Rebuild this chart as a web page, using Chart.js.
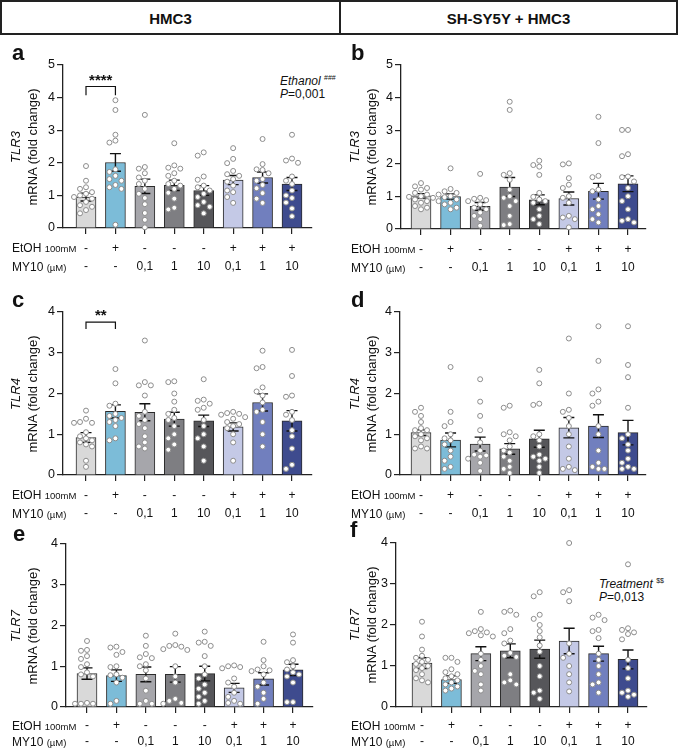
<!DOCTYPE html>
<html lang="en">
<head>
<meta charset="UTF-8">
<title>TLR3 / TLR4 / TLR7 mRNA</title>
<script src="https://cdn.jsdelivr.net/npm/chart.js"></script>
<style>
    body {
        margin: 0;
        background: #fff;
        font-family: "Liberation Sans", Arial, sans-serif;
        color: #111;
    }

    #fig {
        position: relative;
        width: 678px;
        height: 752px;
        overflow: hidden;
    }

    .hdr {
        position: absolute;
        top: 0;
        height: 35px;
        box-sizing: border-box;
        border: 2px solid #222;
        font-weight: bold;
        font-size: 15px;
        text-align: center;
        line-height: 33px;
    }

    canvas {
        position: absolute;
    }

    .letter {
        position: absolute;
        font-weight: bold;
        font-size: 22px;
        line-height: 26px;
    }

    .ytitle {
        position: absolute;
        width: 140px;
        height: 34px;
        text-align: center;
        transform: rotate(-90deg);
        font-size: 13px;
        line-height: 17px;
        white-space: nowrap;
    }

    .row {
        position: absolute;
        font-size: 12px;
        line-height: 14px;
        white-space: nowrap;
    }

    .row small {
        font-size: 9.5px;
    }

    .note {
        position: absolute;
        font-size: 12px;
        line-height: 13px;
        white-space: nowrap;
    }

    .note sup {
        font-size: 7px;
        vertical-align: 5px;
    }
</style>
</head>
<body>
<div id="fig">
    <div class="hdr" style="left:0;width:341px;">HMC3</div>
    <div class="hdr" style="left:339px;width:339px;">SH-SY5Y + HMC3</div>
    <div class="note" style="left:280px;top:71px;"><i>Ethanol</i> <sup>###</sup><br><i>P</i>=0,001</div>
    <div class="note" style="left:599px;top:574px;"><i>Treatment</i> <sup>$$</sup><br><i>P</i>=0,013</div>
</div>

<script>
    // x-axis rows
    const etohRow = ['-', '+', '-', '-', '-', '+', '+', '+'];
    const my10Row = ['-', '-', '0,1', '1', '10', '0,1', '1', '10'];

    // a: TLR3, HMC3
    const tlr3HmcMean = [0.95, 2.01, 1.28, 1.31, 1.15, 1.47, 1.55, 1.35];
    const tlr3HmcSem = [0.12, 0.27, 0.22, 0.16, 0.15, 0.14, 0.17, 0.20];
    const tlr3HmcPts = [
        [1.9, 1.45, 1.25, 1.2, 1.1, 1.05, 1.0, 0.95, 0.9, 0.8, 0.7, 0.65, 0.55, 0.45],
        [3.92, 3.62, 2.86, 2.68, 2.62, 1.8, 1.72, 1.6, 1.5, 1.45, 1.32, 1.25, 1.2, 0.1],
        [3.47, 1.87, 1.82, 1.68, 1.55, 1.45, 1.35, 1.2, 1.05, 0.92, 0.73, 0.46, 0.25, 0.02],
        [2.6, 1.92, 1.85, 1.82, 1.68, 1.6, 1.45, 1.35, 1.3, 1.2, 1.08, 0.9, 0.62, 0.57],
        [2.32, 2.22, 1.58, 1.48, 1.3, 1.25, 1.15, 1.05, 0.95, 0.8, 0.7, 0.65, 0.45],
        [2.45, 2.12, 1.99, 1.75, 1.65, 1.6, 1.5, 1.42, 1.3, 1.15, 1.1, 0.95, 0.77],
        [2.73, 1.96, 1.8, 1.78, 1.68, 1.5, 1.45, 1.32, 1.22, 1.07, 0.9, 0.77],
        [2.86, 2.13, 2.07, 2.0, 1.58, 1.45, 1.35, 1.15, 1.0, 0.92, 0.78, 0.6, 0.36]
    ];

    // b: TLR3, SH-SY5Y + HMC3
    const tlr3CoMean = [1.01, 0.99, 0.69, 1.28, 0.89, 0.93, 1.15, 1.38];
    const tlr3CoSem = [0.07, 0.08, 0.12, 0.29, 0.15, 0.20, 0.24, 0.24];
    const tlr3CoPts = [
        [1.4, 1.3, 1.25, 1.2, 1.1, 1.05, 1.0, 0.98, 0.95, 0.9, 0.85, 0.8, 0.7, 0.65, 0.6],
        [1.85, 1.22, 1.15, 1.1, 1.05, 1.0, 0.97, 0.9, 0.85, 0.8, 0.75, 0.65, 0.6],
        [1.68, 0.95, 0.92, 0.88, 0.85, 0.75, 0.65, 0.6, 0.5, 0.4, 0.3, 0.1],
        [3.88, 3.63, 1.7, 1.65, 1.5, 1.2, 1.0, 0.95, 0.85, 0.7, 0.4, 0.15, 0.12],
        [2.08, 1.95, 1.9, 1.65, 1.1, 0.98, 0.9, 0.85, 0.8, 0.6, 0.4, 0.3, 0.15],
        [2.0, 1.97, 1.55, 1.35, 1.25, 1.0, 0.95, 0.8, 0.4, 0.35, 0.3, 0.05],
        [3.42, 2.62, 1.62, 1.58, 1.2, 1.15, 0.9, 0.7, 0.6, 0.45, 0.3, 0.2],
        [3.02, 3.02, 2.28, 2.22, 1.6, 1.58, 1.45, 1.25, 1.0, 0.85, 0.6, 0.3, 0.25, 0.2]
    ];

    // c: TLR4, HMC3
    const tlr4HmcMean = [0.92, 1.56, 1.54, 1.37, 1.33, 1.18, 1.78, 1.33];
    const tlr4HmcSem = [0.12, 0.16, 0.21, 0.17, 0.14, 0.10, 0.21, 0.25];
    const tlr4HmcPts = [
        [1.58, 1.38, 1.3, 1.28, 1.28, 1.05, 0.95, 0.9, 0.85, 0.8, 0.75, 0.7, 0.35, 0.2],
        [2.6, 2.25, 1.75, 1.7, 1.5, 1.45, 1.4, 1.35, 1.3, 1.2, 0.9, 0.85],
        [3.3, 2.28, 2.2, 2.2, 1.95, 1.55, 1.45, 1.35, 1.25, 1.15, 0.95, 0.8, 0.7, 0.65],
        [2.3, 2.28, 2.0, 1.8, 1.6, 1.5, 1.4, 1.35, 1.2, 1.0, 0.9, 0.75, 0.62],
        [2.35, 1.85, 1.82, 1.75, 1.65, 1.6, 1.35, 1.2, 1.0, 0.9, 0.7, 0.35],
        [1.55, 1.52, 1.5, 1.48, 1.42, 1.38, 1.3, 1.25, 1.2, 1.15, 1.0, 0.8, 0.35],
        [3.05, 2.65, 2.62, 2.15, 2.05, 1.95, 1.78, 1.6, 1.55, 1.3, 1.0, 0.7],
        [3.07, 2.43, 1.95, 1.92, 1.55, 1.48, 1.35, 1.1, 0.95, 0.65, 0.25, 0.15]
    ];

    // d: TLR4, SH-SY5Y + HMC3
    const tlr4CoMean = [1.04, 0.86, 0.76, 0.64, 0.89, 1.16, 1.20, 1.04];
    const tlr4CoSem = [0.07, 0.17, 0.17, 0.13, 0.21, 0.25, 0.28, 0.30];
    const tlr4CoPts = [
        [1.65, 1.55, 1.45, 1.3, 1.15, 1.1, 1.1, 1.0, 0.95, 0.9, 0.85, 0.7, 0.65, 0.65],
        [2.65, 1.55, 1.3, 1.2, 1.0, 0.9, 0.85, 0.75, 0.6, 0.45, 0.35, 0.2, 0.15],
        [2.35, 1.8, 1.45, 1.1, 0.8, 0.6, 0.5, 0.48, 0.45, 0.4, 0.3, 0.1],
        [1.7, 1.65, 1.05, 1.0, 0.95, 0.85, 0.7, 0.6, 0.55, 0.45, 0.35, 0.2, 0.15, 0.05],
        [2.58, 2.25, 1.75, 1.72, 1.0, 0.95, 0.85, 0.7, 0.5, 0.45, 0.4, 0.35, 0.2, 0.05],
        [3.35, 2.0, 1.6, 1.55, 1.4, 1.2, 1.0, 0.7, 0.4, 0.2, 0.15, 0.12],
        [3.65, 2.8, 2.1, 2.0, 1.8, 1.7, 1.2, 1.0, 0.6, 0.3, 0.2, 0.15, 0.15],
        [3.65, 2.7, 2.4, 1.65, 1.0, 0.9, 0.75, 0.6, 0.4, 0.3, 0.2, 0.15, 0.15]
    ];

    // e: TLR7, HMC3
    const tlr7HmcMean = [0.82, 0.77, 0.80, 0.80, 0.82, 0.47, 0.69, 0.91];
    const tlr7HmcSem = [0.14, 0.14, 0.18, 0.19, 0.18, 0.11, 0.15, 0.14];
    const tlr7HmcPts = [
        [1.62, 1.4, 1.38, 1.25, 1.18, 1.05, 0.98, 0.85, 0.8, 0.75, 0.1, 0.08, 0.08, 0.08],
        [1.48, 1.46, 1.35, 1.28, 1.0, 0.98, 0.8, 0.78, 0.72, 0.6, 0.15, 0.08],
        [1.75, 1.5, 1.3, 1.22, 1.2, 1.05, 1.0, 0.9, 0.7, 0.4, 0.15, 0.08, 0.08],
        [1.8, 1.52, 1.5, 1.48, 1.42, 1.4, 1.0, 0.75, 0.6, 0.2, 0.15, 0.1, 0.08],
        [1.85, 1.6, 1.58, 1.5, 1.25, 1.0, 0.8, 0.7, 0.55, 0.45, 0.35, 0.25, 0.15, 0.08],
        [1.02, 1.0, 0.98, 0.95, 0.7, 0.6, 0.5, 0.35, 0.25, 0.15, 0.1, 0.08],
        [1.6, 1.15, 1.0, 0.92, 0.9, 0.88, 0.8, 0.6, 0.5, 0.35, 0.2, 0.08],
        [1.78, 1.58, 1.15, 1.1, 1.0, 0.92, 0.85, 0.8, 0.75, 0.6, 0.12, 0.12]
    ];

    // f: TLR7, SH-SY5Y + HMC3
    const tlr7CoMean = [1.07, 0.67, 1.30, 1.37, 1.41, 1.61, 1.30, 1.16];
    const tlr7CoSem = [0.13, 0.09, 0.17, 0.17, 0.22, 0.31, 0.18, 0.23];
    const tlr7CoPts = [
        [2.08, 1.72, 1.4, 1.25, 1.2, 1.15, 1.1, 1.05, 1.0, 0.95, 0.9, 0.8, 0.7, 0.65, 0.6],
        [1.2, 1.2, 1.1, 0.92, 0.85, 0.8, 0.75, 0.7, 0.65, 0.6, 0.55, 0.5, 0.45, 0.4],
        [2.32, 1.9, 1.85, 1.82, 1.8, 1.75, 1.72, 1.3, 1.15, 1.0, 0.88, 0.8, 0.55, 0.4],
        [2.35, 2.32, 2.25, 1.9, 1.8, 1.62, 1.55, 1.32, 1.25, 1.22, 0.8, 0.65, 0.6, 0.55],
        [2.8, 2.7, 2.25, 2.15, 2.0, 1.85, 1.7, 1.5, 1.35, 1.0, 0.75, 0.4, 0.35, 0.2],
        [4.0, 2.85, 2.8, 2.58, 1.55, 1.3, 1.2, 1.0, 0.8, 0.6, 0.38],
        [2.25, 2.18, 2.12, 1.88, 1.85, 1.68, 1.3, 1.15, 1.0, 0.8, 0.6, 0.55, 0.35],
        [3.48, 1.92, 1.88, 1.82, 1.78, 1.65, 1.15, 0.95, 0.7, 0.4, 0.35, 0.3, 0.25]
    ];

    // significance brackets: [from, to, bracket top, leg end, label y]
    const sigA = [0, 1, 4.34, 4.07, 4.62];
    const sigC = [0, 1, 3.75, 3.58, 3.98];

    const barColors = ['#d9d9d9', '#7cbcd8', '#a6a6ab', '#7e7e82', '#56565a', '#c4c9e6', '#717fbe', '#3e4b8e'];

    // area = [left, top, right, bottom] of the plot in page pixels, c0/c7 = first/last bar centre
    const panels = [
        {letter: 'a', lx: 12, ly: 40, col: 0, gene: 'TLR3', area: [63, 65, 312, 228], c0: 86, c7: 292, ymax: 5,
            mean: tlr3HmcMean, sem: tlr3HmcSem, pts: tlr3HmcPts, sig: sigA, sigText: '****', lh: 18.5},
        {letter: 'b', lx: 351, ly: 40, col: 1, gene: 'TLR3', area: [401, 65, 646, 229], c0: 421, c7: 628, ymax: 5,
            mean: tlr3CoMean, sem: tlr3CoSem, pts: tlr3CoPts, sig: null, lh: 18.5},
        {letter: 'c', lx: 12, ly: 287, col: 0, gene: 'TLR4', area: [63, 312, 312, 475], c0: 86, c7: 292, ymax: 4,
            mean: tlr4HmcMean, sem: tlr4HmcSem, pts: tlr4HmcPts, sig: sigC, sigText: '**', lh: 18.5},
        {letter: 'd', lx: 351, ly: 287, col: 1, gene: 'TLR4', area: [400, 312, 646, 475], c0: 421, c7: 628, ymax: 4,
            mean: tlr4CoMean, sem: tlr4CoSem, pts: tlr4CoPts, sig: null, lh: 18.5},
        {letter: 'e', lx: 13, ly: 521, col: 0, gene: 'TLR7', area: [66, 544, 313, 707], c0: 87, c7: 293, ymax: 4,
            mean: tlr7HmcMean, sem: tlr7HmcSem, pts: tlr7HmcPts, sig: null, lh: 16},
        {letter: 'f', lx: 350, ly: 517, col: 1, gene: 'TLR7', area: [396, 543, 647, 707], c0: 422, c7: 628, ymax: 4,
            mean: tlr7CoMean, sem: tlr7CoSem, pts: tlr7CoPts, sig: null, lh: 16}
    ];

    const fig = document.getElementById('fig');

    // spread the dots of one group sideways so they don't sit on top of each other
    function swarm(vals, gi, py, px) {
        const placed = [];
        const offs = [0, -6, 6, -12, 12, -3, 3, -9, 9];
        return vals.slice().sort((a, b) => b - a).map(v => {
            const yy = v * py;
            let pick = 0, bestD = -1;
            for (const o of offs) {
                let d = Infinity;
                placed.forEach(q => { d = Math.min(d, Math.hypot(q[0] - o, q[1] - yy)); });
                if (d >= 5.6) { pick = o; break; }
                if (d > bestD) { bestD = d; pick = o; }
            }
            placed.push([pick, yy]);
            return {x: gi + pick / px, y: v};
        });
    }

    const errPlugin = {
        id: 'err',
        afterDatasetDraw(chart, args, opts) {
            if (args.index !== 0) return;
            const xs = chart.scales.x, ys = chart.scales.y, ctx = chart.ctx;
            ctx.save();
            ctx.strokeStyle = '#111';
            ctx.lineWidth = 1.4;
            opts.mean.forEach((m, i) => {
                const x = xs.getPixelForValue(i);
                const yt = ys.getPixelForValue(m + opts.sem[i]);
                const yb = ys.getPixelForValue(m - opts.sem[i]);
                ctx.beginPath();
                ctx.moveTo(x, yb); ctx.lineTo(x, yt);
                ctx.moveTo(x - 5.5, yt); ctx.lineTo(x + 5.5, yt);
                ctx.moveTo(x - 5.5, yb); ctx.lineTo(x + 5.5, yb);
                ctx.stroke();
            });
            ctx.restore();
        },
        afterDraw(chart, args, opts) {
            const s = opts.sig;
            if (!s) return;
            const xs = chart.scales.x, ys = chart.scales.y, ctx = chart.ctx;
            const x0 = xs.getPixelForValue(s[0]), x1 = xs.getPixelForValue(s[1]);
            const yt = ys.getPixelForValue(s[2]), yl = ys.getPixelForValue(s[3]);
            ctx.save();
            ctx.strokeStyle = '#111';
            ctx.lineWidth = 1.2;
            ctx.beginPath();
            ctx.moveTo(x0, yl); ctx.lineTo(x0, yt); ctx.lineTo(x1, yt); ctx.lineTo(x1, yl);
            ctx.stroke();
            ctx.fillStyle = '#111';
            ctx.font = 'bold 15px "Liberation Sans", Arial, sans-serif';
            ctx.textAlign = 'center';
            ctx.textBaseline = 'middle';
            ctx.fillText(opts.sigText, (x0 + x1) / 2, ys.getPixelForValue(s[4]) + 3);
            ctx.restore();
        }
    };

    panels.forEach(p => {
        const [L, T, R, B] = p.area;
        const YW = 40, PT = 12, PR = 12, XH = 50;
        const cv = document.createElement('canvas');
        const w = R - L + YW + PR, h = B - T + PT + XH;
        cv.width = w; cv.height = h;
        cv.style.left = (L - YW) + 'px';
        cv.style.top = (T - PT) + 'px';
        cv.style.width = w + 'px';
        cv.style.height = h + 'px';
        fig.appendChild(cv);

        const kx = (p.c7 - p.c0) / 7;
        const xmin = -(p.c0 - L) / kx;
        const xmax = xmin + (R - L) / kx;
        const py = (B - T) / p.ymax;

        let dots = [];
        p.pts.forEach((g, i) => { dots = dots.concat(swarm(g, i, py, kx)); });

        new Chart(cv, {
            type: 'bar',
            data: {
                datasets: [
                    {
                        type: 'bar',
                        data: p.mean.map((m, i) => ({x: i, y: m})),
                        backgroundColor: barColors,
                        borderColor: '#2a2a2a',
                        borderWidth: 1,
                        barThickness: 20,
                        order: 2
                    },
                    {
                        type: 'scatter',
                        data: dots,
                        pointRadius: 2.5,
                        pointBackgroundColor: '#fff',
                        pointBorderColor: '#8c8c8c',
                        pointBorderWidth: 1,
                        clip: false,
                        order: 1
                    }
                ]
            },
            options: {
                responsive: false,
                animation: false,
                events: [],
                layout: {padding: {top: PT, right: PR, left: 0, bottom: 0}},
                plugins: {
                    legend: {display: false},
                    tooltip: {enabled: false},
                    err: {mean: p.mean, sem: p.sem, sig: p.sig, sigText: p.sigText}
                },
                scales: {
                    x: {
                        type: 'linear',
                        min: xmin,
                        max: xmax,
                        offset: false,
                        afterBuildTicks: s => { s.ticks = etohRow.map((_, i) => ({value: i})); },
                        afterFit: s => { s.height = XH; },
                        grid: {display: true, offset: false, drawOnChartArea: false, drawTicks: true, tickLength: 6, color: '#222', lineWidth: 1.2},
                        border: {display: true, color: '#222', width: 1.3},
                        ticks: {
                            autoSkip: false,
                            maxRotation: 0,
                            padding: 5,
                            color: '#111',
                            font: {family: '"Liberation Sans", Arial, sans-serif', size: 12, lineHeight: p.lh / 12},
                            callback: v => [etohRow[v], my10Row[v]]
                        }
                    },
                    y: {
                        type: 'linear',
                        min: 0,
                        max: p.ymax,
                        afterFit: s => { s.width = YW; },
                        grid: {display: true, drawOnChartArea: false, drawTicks: true, tickLength: 6, color: '#222', lineWidth: 1.2},
                        border: {display: true, color: '#222', width: 1.3},
                        ticks: {
                            stepSize: 1,
                            padding: 2,
                            color: '#111',
                            font: {family: '"Liberation Sans", Arial, sans-serif', size: 12.5}
                        }
                    }
                }
            },
            plugins: [errPlugin]
        });

        // panel letter, axis title and row captions
        const ox = p.col ? 339 : 0;
        const letter = document.createElement('div');
        letter.className = 'letter';
        letter.style.left = p.lx + 'px';
        letter.style.top = p.ly + 'px';
        letter.textContent = p.letter;
        fig.appendChild(letter);

        const yt = document.createElement('div');
        yt.className = 'ytitle';
        yt.style.left = (ox + 24 - 70) + 'px';
        yt.style.top = ((T + B) / 2 - 17) + 'px';
        yt.innerHTML = '<i>' + p.gene + '</i><br>mRNA (fold change)';
        fig.appendChild(yt);

        const firstRow = B + 6 + 5 + p.lh / 2;
        const r1 = document.createElement('div');
        r1.className = 'row';
        r1.style.left = (ox + 12) + 'px';
        r1.style.top = (firstRow - 7) + 'px';
        r1.innerHTML = 'EtOH <small>100mM</small>';
        fig.appendChild(r1);

        const r2 = document.createElement('div');
        r2.className = 'row';
        r2.style.left = (ox + 12) + 'px';
        r2.style.top = (firstRow + p.lh - 7) + 'px';
        r2.innerHTML = 'MY10 <small>(µM)</small>';
        fig.appendChild(r2);
    });
</script>
</body>
</html>
